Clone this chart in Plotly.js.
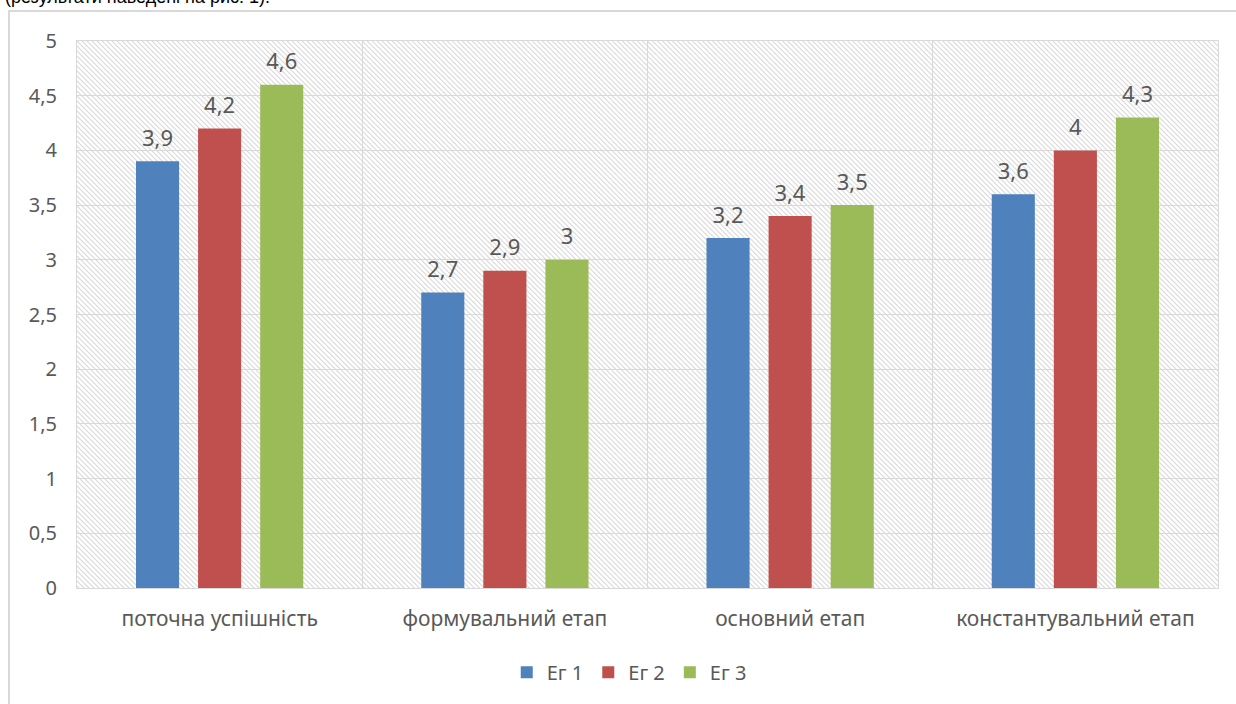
<!DOCTYPE html>
<html>
<head>
<meta charset="utf-8">
<script src="https://cdn.plot.ly/plotly-3.0.1.min.js"></script>
<style>
  html, body { margin: 0; padding: 0; background: #fff; width: 1236px; height: 704px; overflow: hidden; }
  #cap { position: absolute; left: 0; top: 0; width: 1236px; height: 8px; overflow: hidden; }
  #cap span { position: absolute; left: 5px; top: -13px; font-family: "Liberation Sans", Arial, sans-serif; font-size: 18px; color: #000; white-space: nowrap; }
  #frame { position: absolute; left: 8px; top: 10px; width: 1240px; height: 720px; border-left: 2px solid #d9d9d9; border-top: 2px solid #d9d9d9; }
  #chart { position: absolute; left: 0; top: 0; width: 1236px; height: 704px; }
</style>
</head>
<body>
<div id="cap"><span>(результати наведені на рис. 1).</span></div>
<div id="frame"></div>
<div id="chart"></div>
<script>
const categories = ["поточна успішність", "формувальний етап", "основний етап", "константувальний етап"];
const seriesNames = ["Ег 1", "Ег 2", "Ег 3"];
const eg1 = [3.9, 2.7, 3.2, 3.6];
const eg2 = [4.2, 2.9, 3.4, 4.0];
const eg3 = [4.6, 3.0, 3.5, 4.3];
const colors = ["#4F81BD", "#C0504D", "#9BBB59"];
const yTicks = [0, 0.5, 1, 1.5, 2, 2.5, 3, 3.5, 4, 4.5, 5];

const font = "Noto Sans, Open Sans, sans-serif";
const txtColor = "#595959";

const traces = [eg1, eg2, eg3].map((vals, i) => ({
  type: "bar",
  name: seriesNames[i],
  x: categories,
  y: vals,
  marker: { color: colors[i] },
  texttemplate: '<span style="font-size:22px">%{y}</span><br>&nbsp;',
  textposition: "outside",
  constraintext: "none",
  cliponaxis: false,
  textfont: { family: font, size: 8, color: txtColor },
  hoverinfo: "skip"
}));

const hatch = '<svg xmlns="http://www.w3.org/2000/svg" width="1140" height="547">' +
  '<defs><pattern id="p" patternUnits="userSpaceOnUse" width="5" height="5">' +
  '<path d="M-1,-1 L6,6 M-1,4 L1,6 M4,-1 L6,1" stroke="#d4d4d4" stroke-width="0.9"/>' +
  '</pattern></defs><rect width="1140" height="547" fill="#fff"/><rect width="1140" height="547" fill="url(#p)"/></svg>';

const layout = {
  width: 1236,
  height: 704,
  margin: { l: 77, r: 18, t: 41, b: 116 },
  paper_bgcolor: "rgba(0,0,0,0)",
  plot_bgcolor: "rgba(0,0,0,0)",
  separators: ",.",
  barmode: "group",
  bargap: 0.347,
  bargroupgap: 0.306,
  showlegend: true,
  legend: {
    orientation: "h",
    x: 0.484, xanchor: "center",
    y: -0.154, yanchor: "middle",
    font: { family: font, size: 20, color: txtColor },
    itemwidth: 30,
    traceorder: "normal"
  },
  xaxis: {
    type: "category",
    tickson: "boundaries",
    showgrid: true,
    gridcolor: "#d9d9d9",
    gridwidth: 1,
    showline: true,
    linecolor: "#d9d9d9",
    mirror: true,
    ticks: "",
    ticklabelstandoff: 12,
    tickfont: { family: font, size: 21, color: txtColor },
    fixedrange: true
  },
  yaxis: {
    range: [0, 5],
    tickvals: yTicks,
    showgrid: true,
    gridcolor: "#d9d9d9",
    gridwidth: 1,
    zeroline: false,
    showline: true,
    linecolor: "#d9d9d9",
    mirror: true,
    ticks: "",
    ticklabelstandoff: 15,
    tickfont: { family: font, size: 20, color: txtColor },
    fixedrange: true
  },
  images: [{
    source: "data:image/svg+xml;charset=utf-8," + encodeURIComponent(hatch),
    xref: "paper", yref: "paper",
    x: 0, y: 1, sizex: 1, sizey: 1,
    xanchor: "left", yanchor: "top",
    sizing: "stretch",
    layer: "below"
  }]
};

Plotly.newPlot("chart", traces, layout, { displayModeBar: false, staticPlot: true });
</script>
</body>
</html>
